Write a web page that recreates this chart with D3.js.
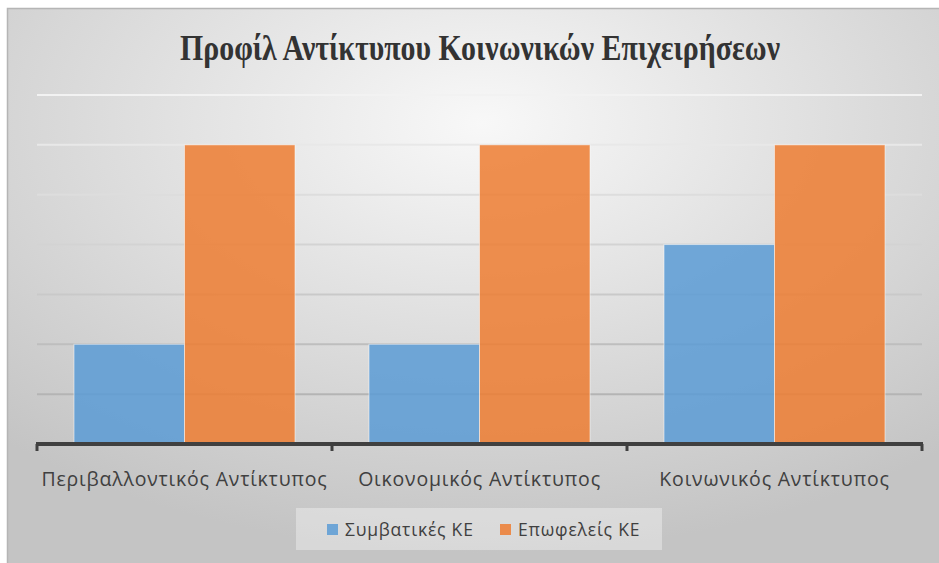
<!DOCTYPE html>
<html lang="el">
<head>
  <meta charset="UTF-8" />
  <title>Προφίλ Αντίκτυπου Κοινωνικών Επιχειρήσεων</title>
  <style>
    body { margin: 0; background: #fff; }
    svg { display: block; }
  </style>
</head>
<body>
  <svg id="chart"></svg>
  <script src="https://d3js.org/d3.v7.min.js"></script>
  <script>
    const categories = ["Περιβαλλοντικός Αντίκτυπος", "Οικονομικός Αντίκτυπος", "Κοινωνικός Αντίκτυπος"];
    const seriesNames = ["Συμβατικές ΚΕ", "Επωφελείς ΚΕ"];
    const conventional = [2, 2, 4];
    const beneficial = [6, 6, 6];
    const gridTicks = [1, 2, 3, 4, 5, 6, 7];
    const title = "Προφίλ Αντίκτυπου Κοινωνικών Επιχειρήσεων";

    const W = 939, H = 563;
    const margin = { top: 95, right: 17, bottom: 119, left: 37 };
    const colors = { "Συμβατικές ΚΕ": "#5b9bd5", "Επωφελείς ΚΕ": "#ed7d31" };

    const svg = d3.select("#chart").attr("width", W).attr("height", H);

    // background gradient like the office chart style
    const defs = svg.append("defs");
    const grad = defs.append("radialGradient").attr("id", "bg")
      .attr("cx", "50%").attr("cy", "20%").attr("r", "75%");
    grad.append("stop").attr("offset", "0%").attr("stop-color", "#f8f8f8");
    grad.append("stop").attr("offset", "100%").attr("stop-color", "#c4c4c4");

    svg.append("rect").attr("x", 7.5).attr("y", 8.5).attr("width", W + 10).attr("height", H + 10)
      .attr("fill", "url(#bg)").attr("stroke", "#b5b5b5").attr("stroke-width", 1.5);

    const x0 = d3.scaleBand().domain(categories).range([margin.left, W - margin.right]);
    const x1 = d3.scaleBand().domain(seriesNames).range([0, x0.bandwidth()]).paddingOuter(0.335);
    const y = d3.scaleLinear().domain([0, 7]).range([H - margin.bottom, margin.top]);

    // gridlines
    const gridColor = d3.scaleLinear().domain([7, 1]).range(["#f2f2f2", "#b4b4b4"]);
    svg.append("g").selectAll("line").data(gridTicks).join("line")
      .attr("x1", margin.left).attr("x2", W - margin.right)
      .attr("y1", d => y(d)).attr("y2", d => y(d))
      .attr("stroke", d => gridColor(d)).attr("stroke-width", 2);

    const rows = categories.map((c, i) => ({ cat: c, values: [
      { key: seriesNames[0], value: conventional[i] },
      { key: seriesNames[1], value: beneficial[i] }
    ] }));

    svg.append("g").selectAll("g").data(rows).join("g")
      .attr("transform", d => `translate(${x0(d.cat)},0)`)
      .selectAll("rect").data(d => d.values).join("rect")
      .attr("x", d => x1(d.key)).attr("width", x1.bandwidth())
      .attr("y", d => y(d.value)).attr("height", d => y(0) - y(d.value))
      .attr("fill", d => colors[d.key]).attr("fill-opacity", 0.85)
      .attr("stroke", "#ffffff").attr("stroke-opacity", 0.5).attr("stroke-width", 1);

    // x axis
    const xAxis = svg.append("g").attr("transform", `translate(0,${y(0)})`);
    xAxis.append("line").attr("x1", margin.left - 1).attr("x2", W - margin.right + 1)
      .attr("stroke", "#404040").attr("stroke-width", 4);
    const bounds = categories.map(c => x0(c)).concat([x0(categories[categories.length - 1]) + x0.bandwidth()]);
    xAxis.selectAll(".tk").data(bounds).join("line").attr("class", "tk")
      .attr("x1", d => d).attr("x2", d => d).attr("y1", 0).attr("y2", 7)
      .attr("stroke", "#404040").attr("stroke-width", 3);
    xAxis.selectAll("text").data(categories).join("text")
      .attr("x", d => x0(d) + x0.bandwidth() / 2).attr("y", 42)
      .attr("text-anchor", "middle")
      .style("font-family", "'Open Sans', 'Noto Sans', sans-serif")
      .style("font-size", "19.5px").style("letter-spacing", "0.8px").style("fill", "#404040")
      .text(d => d);

    // title
    svg.append("text").attr("x", 480).attr("y", 60).attr("text-anchor", "middle")
      .attr("textLength", 600).attr("lengthAdjust", "spacingAndGlyphs")
      .style("font-family", "'Liberation Serif', 'Times New Roman', serif")
      .style("font-weight", "bold").style("font-size", "35px").style("fill", "#333")
      .text(title);

    // legend
    const legend = svg.append("g");
    legend.append("rect").attr("x", 296).attr("y", 508).attr("width", 366).attr("height", 42)
      .attr("fill", "#f2f2f2").attr("fill-opacity", 0.45);
    const items = legend.selectAll("g").data(seriesNames).join("g")
      .attr("transform", (d, i) => `translate(${i === 0 ? 327 : 500},524)`);
    items.append("rect").attr("width", 11).attr("height", 11)
      .attr("fill", d => colors[d]).attr("fill-opacity", 0.85);
    items.append("text").attr("x", 18).attr("y", 11.5)
      .style("font-family", "'Open Sans', 'Noto Sans', sans-serif")
      .style("font-size", "17.5px").style("letter-spacing", "0.8px").style("fill", "#404040")
      .text(d => d);
  </script>
</body>
</html>
